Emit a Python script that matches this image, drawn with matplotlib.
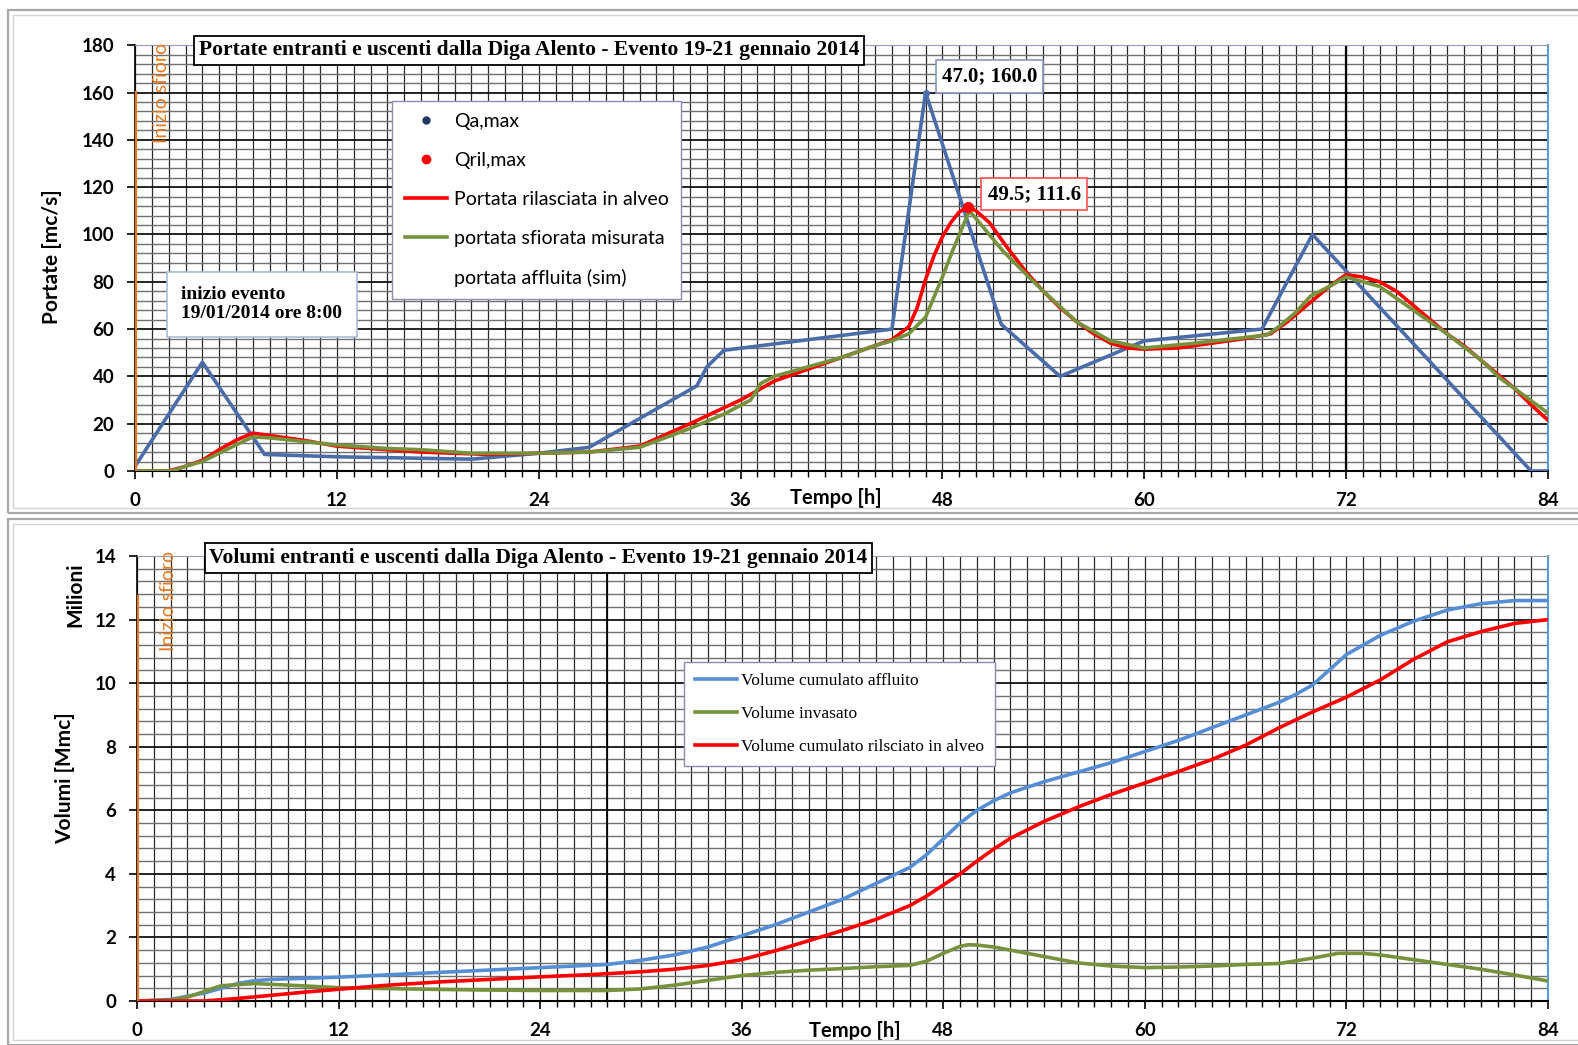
import matplotlib
matplotlib.use("Agg")
import matplotlib.pyplot as plt
from matplotlib.lines import Line2D
from matplotlib.patches import Rectangle
from matplotlib.ticker import MultipleLocator

plt.rcParams['font.family'] = ['Lato', 'DejaVu Sans']

# ---- portate (mc/s) ----
ore_qa = [0, 4, 7.7, 12, 20, 24, 27, 33.4, 34, 35, 45, 47, 51.5, 55, 60, 67, 70, 83, 84]
q_affluita = [2, 46, 7, 6, 5, 7.5, 10, 36, 44, 51, 60, 160, 62, 40, 55, 60, 100, 0, 0]

ore_ril = [0, 2, 3, 4, 5, 6, 7, 8, 10, 12, 15, 17, 21, 24, 27, 30, 33, 36, 38, 40,
           42, 44, 45, 46, 46.5, 47, 47.5, 48, 48.5, 49, 49.5, 50, 50.8, 51.8, 53,
           54, 55, 56, 57, 58, 59, 60, 62, 64, 66, 67.5, 68.5, 70, 71, 72, 73, 74,
           75, 76, 77, 78, 79, 80, 81, 82, 83, 84]
q_rilasciata = [0, 0, 2, 4.5, 9, 13, 16, 15, 13, 10.5, 9, 8, 7, 7.5, 8, 10.5, 20, 30, 38, 43,
                48, 53, 55.5, 61, 69, 81, 91, 99, 105, 109.5, 111.6, 110, 105, 95, 84,
                76, 69, 63, 58, 54, 52, 51.5, 52, 54, 56, 58, 63, 72, 78, 83, 82, 80,
                76, 70, 64, 58, 53, 47, 41, 35, 28, 21.5]

ore_sfi = [0, 2.2, 3, 4, 5, 6, 7, 8, 10, 12, 15, 17, 20, 24, 27, 30, 33, 35, 36.6, 37.2,
           38, 40, 42, 44, 45, 46, 47, 48, 48.6, 49.6, 50.2, 51.6, 53, 54, 56, 58,
           60, 63, 67.3, 68, 69, 69.9, 71, 72, 74, 76, 78, 80, 81.2, 82, 84]
q_sfiorata = [0, 0, 2, 4, 7.5, 11, 14.4, 14, 12.5, 11, 9.5, 9, 7.5, 7.5, 8, 10, 18, 24, 30, 37,
              40, 44, 48, 53, 55, 58, 65, 82, 93, 110, 105, 93, 83, 76, 63, 55,
              52, 54, 57.5, 61, 67, 74, 78, 82, 78, 68, 58, 47, 39, 35, 24.5]

qa_max = (47.0, 160.0)
qril_max = (49.5, 111.6)

# ---- volumi (Mmc) ----
ore_vol_a = [0, 2, 4, 5, 6, 7, 8, 12, 18, 24, 28, 30, 32, 34, 36, 38, 40, 42, 44, 46,
             47, 48, 49, 50, 51, 52, 54, 56, 58, 60, 62, 64, 66, 68, 69, 70, 72, 74,
             76, 78, 80, 82, 84]
vol_affluito = [0, 0.05, 0.25, 0.4, 0.55, 0.64, 0.68, 0.75, 0.9, 1.05, 1.15, 1.28, 1.45, 1.7,
                2.05, 2.4, 2.8, 3.2, 3.7, 4.2, 4.6, 5.1, 5.6, 6.0, 6.3, 6.55, 6.9, 7.2,
                7.5, 7.85, 8.2, 8.6, 9.0, 9.4, 9.65, 9.95, 10.9, 11.5, 11.95, 12.3, 12.5,
                12.6, 12.6]

ore_vol_r = [0, 4, 6, 8, 10, 12, 15, 18, 21, 24, 27, 30, 32, 34, 36, 38, 40, 42, 44, 46,
             47, 48, 49, 50, 51, 52, 54, 56, 58, 60, 62, 64, 66, 68, 69, 70, 72, 74,
             76, 78, 80, 82, 84]
vol_rilasciato = [0, 0, 0.08, 0.18, 0.28, 0.37, 0.5, 0.6, 0.68, 0.76, 0.83, 0.92, 1.0, 1.12,
                  1.3, 1.58, 1.9, 2.22, 2.57, 3.0, 3.3, 3.65, 4.0, 4.4, 4.78, 5.12, 5.65,
                  6.1, 6.5, 6.86, 7.22, 7.6, 8.05, 8.6, 8.85, 9.1, 9.56, 10.1, 10.75,
                  11.3, 11.62, 11.88, 12.0]

ore_vol_i = [0, 2, 3, 4, 5, 7, 9, 12, 16, 20, 24, 28, 30, 32, 34, 36, 38, 40, 42, 44,
             46, 47, 48, 49, 49.5, 50, 51, 52, 54, 56, 58, 60, 62, 64, 66, 68, 70, 71.5,
             73, 74, 76, 78, 80, 82, 84]
vol_invasato = [0, 0.03, 0.12, 0.3, 0.48, 0.55, 0.5, 0.42, 0.38, 0.35, 0.33, 0.33, 0.38,
                0.5, 0.65, 0.8, 0.9, 0.97, 1.02, 1.08, 1.12, 1.25, 1.5, 1.72, 1.77, 1.76,
                1.7, 1.6, 1.4, 1.2, 1.1, 1.05, 1.07, 1.1, 1.15, 1.18, 1.35, 1.5, 1.5,
                1.45, 1.3, 1.15, 1.0, 0.82, 0.63]

x_ticks = [0, 12, 24, 36, 48, 60, 72, 84]

BLU = '#4a6daa'
ROSSO = '#ff0000'
VERDE = '#76923c'
BLU_VOL = '#558ed5'
ARANCIO = '#e8781f'
SERIF = 'Liberation Serif'

fig = plt.figure(figsize=(15.78, 10.45), dpi=100)

# cornici grigie dei due grafici
for y0, h in [(1 - 513 / 1045, 503 / 1045), (0, 1 - 519 / 1045)]:
    fig.patches.append(Rectangle((8 / 1578, y0), 1, h, transform=fig.transFigure,
                                 fill=False, edgecolor='#a8a8a8', lw=1.6))
    fig.patches.append(Rectangle((13 / 1578, y0 + 5 / 1045), 1, h - 10 / 1045,
                                 transform=fig.transFigure, fill=False,
                                 edgecolor='#d4d4d4', lw=1.0))

ax1 = fig.add_axes([0.0856, 0.5493, 0.8953, 0.4074])
ax2 = fig.add_axes([0.0868, 0.0421, 0.8942, 0.4258])


def stile_assi(ax, ymax, ystep):
    ax.set_xlim(0, 84)
    ax.set_ylim(0, ymax)
    ax.set_xticks(x_ticks)
    ax.set_yticks([ystep * i for i in range(int(round(ymax / ystep)) + 1)])
    ax.xaxis.set_minor_locator(MultipleLocator(1))
    ax.yaxis.set_minor_locator(MultipleLocator(ystep / 5))
    ax.grid(which='minor', axis='x', color='#2a2a2a', lw=0.9)
    ax.grid(which='minor', axis='y', color='#707070', lw=1.0)
    ax.grid(which='major', axis='y', color='#111111', lw=1.3)
    ax.grid(which='major', axis='x', color='#2a2a2a', lw=0.9)
    ax.set_axisbelow(True)
    ax.tick_params(which='major', direction='out', length=6, width=1.2, pad=9,
                   labelsize=13.5)
    ax.tick_params(which='minor', axis='x', direction='out', length=4, width=1)
    ax.tick_params(which='minor', axis='y', length=0)
    for lab in ax.get_xticklabels() + ax.get_yticklabels():
        lab.set_fontweight('bold')
    ax.spines['bottom'].set_linewidth(1.5)
    ax.spines['left'].set_linewidth(1.2)
    ax.spines['right'].set_color('#5b9bd5')
    ax.spines['right'].set_linewidth(1.5)
    ax.spines['top'].set_color('#9a98b8')


# ---------------- grafico portate ----------------
stile_assi(ax1, 180, 20)
ax1.plot([0, 0], [0, 160], color=ARANCIO, lw=3, zorder=4)
ax1.text(1.55, 160, 'Inizio sfioro', rotation=90, color=ARANCIO, fontsize=14,
         ha='center', va='center', zorder=5)
ax1.axvline(72, color='black', lw=1.6, zorder=2)

ax1.plot(ore_qa, q_affluita, color=BLU, lw=2.6, zorder=3)
l_ril, = ax1.plot(ore_ril, q_rilasciata, color=ROSSO, lw=2.6, zorder=3,
                  label='Portata rilasciata in alveo')
l_sfi, = ax1.plot(ore_sfi, q_sfiorata, color=VERDE, lw=2.6, zorder=3,
                  label='portata sfiorata misurata')
ax1.plot(*qa_max, 'o', color=BLU, ms=4, zorder=4)
ax1.plot(*qril_max, 'o', color=ROSSO, ms=7, zorder=4)

h_qa = Line2D([], [], ls='none', marker='o', color='#1f3864', ms=5)
h_qr = Line2D([], [], ls='none', marker='o', color=ROSSO, ms=6)
h_sim = Line2D([], [], color='none')
leg1 = ax1.legend([h_qa, h_qr, l_ril, l_sfi, h_sim],
                  ['Qa,max', 'Qril,max', 'Portata rilasciata in alveo',
                   'portata sfiorata misurata', 'portata affluita (sim)'],
                  loc='upper left', bbox_to_anchor=(0.1822, 0.870), borderaxespad=0,
                  fontsize=14, labelspacing=1.13, handlelength=2.2, handletextpad=0.35,
                  borderpad=0.62, fancybox=False, framealpha=1, edgecolor='#8c8cb0')
leg1.get_frame().set_linewidth(1.0)

ax1.annotate('%.1f; %.1f' % qa_max, xy=qa_max, xytext=(46, 11.5),
             textcoords='offset points', ha='center', va='center', fontsize=15,
             family=SERIF, fontweight='bold', zorder=6,
             bbox=dict(boxstyle='square,pad=0.3', fc='white', ec='#8797c0', lw=1.2))
ax1.annotate('%.1f; %.1f' % qril_max, xy=qril_max, xytext=(48, 9.3),
             textcoords='offset points', ha='center', va='center', fontsize=15,
             family=SERIF, fontweight='bold', zorder=6,
             bbox=dict(boxstyle='square,pad=0.3', fc='white', ec='#ff5050', lw=1.2))

ax1.text(0.0326, 0.392, 'inizio evento\n19/01/2014 ore 8:00', transform=ax1.transAxes,
         ha='left', va='center', fontsize=14, family=SERIF,
         fontweight='bold', linespacing=1.15, zorder=6,
         bbox=dict(boxstyle='square,pad=0.75', fc='white', ec='#a9bdd6', lw=1.2))

ax1.text(0.279, 0.988, 'Portate entranti e uscenti dalla Diga Alento - Evento 19-21 gennaio 2014',
         transform=ax1.transAxes, ha='center', va='center', fontsize=15.5,
         family=SERIF, fontweight='bold', zorder=6,
         bbox=dict(boxstyle='square,pad=0.22', fc='white', ec='black', lw=1.3))

ax1.set_ylabel('Portate [mc/s]', fontsize=15, fontweight='bold')
ax1.yaxis.set_label_coords(-0.0517, 0.503)
ax1.text(0.496, -0.063, 'Tempo [h]', transform=ax1.transAxes, ha='center', va='center',
         fontsize=14.5, fontweight='bold')

# ---------------- grafico volumi ----------------
stile_assi(ax2, 14, 2)
ax2.plot([0, 0], [0, 12.7], color=ARANCIO, lw=3, zorder=4)
ax2.text(1.9, 12.6, 'Inizio sfioro', rotation=90, color=ARANCIO, fontsize=14,
         ha='center', va='center', zorder=5)
ax2.axvline(28, color='black', lw=1.3, zorder=2)

v_a, = ax2.plot(ore_vol_a, vol_affluito, color=BLU_VOL, lw=2.6, zorder=3,
                label='Volume cumulato affluito')
v_i, = ax2.plot(ore_vol_i, vol_invasato, color=VERDE, lw=2.6, zorder=3,
                label='Volume invasato')
v_r, = ax2.plot(ore_vol_r, vol_rilasciato, color=ROSSO, lw=2.6, zorder=3,
                label='Volume cumulato rilsciato in alveo')

leg2 = ax2.legend(handles=[v_a, v_i, v_r], loc='upper left', bbox_to_anchor=(0.388, 0.761),
                  borderaxespad=0, prop={'family': SERIF, 'size': 12.5},
                  labelspacing=0.97, handlelength=2.4, handletextpad=0.25, borderpad=0.62,
                  fancybox=False, framealpha=1, edgecolor='#8c8cb0')
leg2.get_frame().set_linewidth(1.0)

ax2.text(0.2846, 0.9955, 'Volumi entranti e uscenti dalla Diga Alento - Evento 19-21 gennaio 2014',
         transform=ax2.transAxes, ha='center', va='center', fontsize=15.5,
         family=SERIF, fontweight='bold', zorder=6,
         bbox=dict(boxstyle='square,pad=0.22', fc='white', ec='black', lw=1.3))

ax2.set_ylabel('Volumi [Mmc]', fontsize=15, fontweight='bold')
ax2.yaxis.set_label_coords(-0.0436, 0.5)
ax2.text(-0.0436, 0.914, 'Milioni', transform=ax2.transAxes, rotation=90, ha='center',
         va='center', fontsize=15, fontweight='bold')
ax2.text(0.509, -0.068, 'Tempo [h]', transform=ax2.transAxes, ha='center', va='center',
         fontsize=14.5, fontweight='bold')

fig.savefig('out.png', dpi=100, facecolor='white')
